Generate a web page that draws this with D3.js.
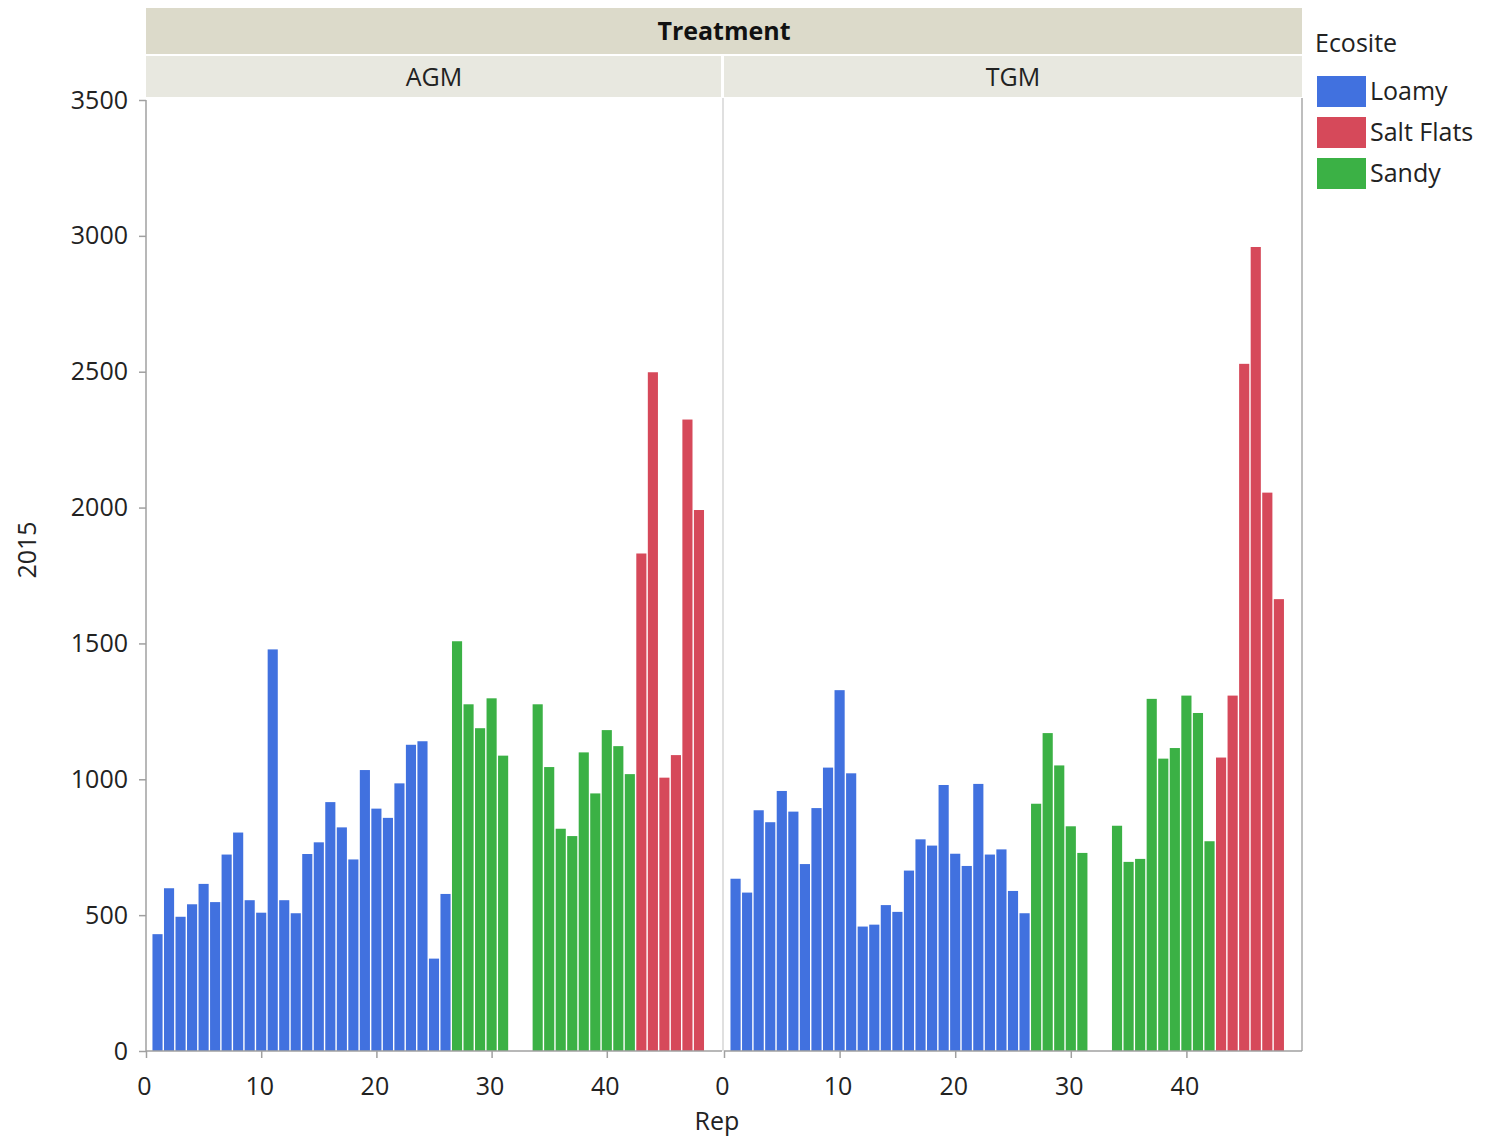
<!DOCTYPE html>
<html><head><meta charset="utf-8">
<script src="https://cdn.jsdelivr.net/npm/d3@7"></script>
<style>
body{margin:0;background:#fff;}
text{font-family:"Open Sans","Noto Sans",sans-serif;}
</style></head>
<body><svg id="c" width="1497" height="1143"></svg>
<script>
// ---- data ----
const panels = ["AGM", "TGM"];
const ecosites = ["Loamy", "Salt Flats", "Sandy"];
const colors = ["#4171DF", "#D6495A", "#3BB145"];
const loamyReps = [1,2,3,4,5,6,7,8,9,10,11,12,13,14,15,16,17,18,19,20,21,22,23,24,25,26];
const sandyReps = [27,28,29,30,31,34,35,36,37,38,39,40,41,42];
const saltReps  = [43,44,45,46,47,48];
const agmLoamy = [430,599,494,540,615,548,723,804,555,509,1478,555,507,725,768,916,823,705,1034,892,858,985,1127,1140,340,578];
const agmSandy = [1508,1276,1188,1298,1087,1276,1045,818,791,1099,948,1181,1122,1019];
const agmSalt  = [1831,2498,1006,1089,2324,1991];
const tgmLoamy = [634,583,886,842,957,881,688,894,1043,1328,1022,458,465,537,512,664,779,756,979,726,681,983,723,742,589,507];
const tgmSandy = [910,1170,1051,827,729,829,696,707,1296,1076,1115,1308,1244,772];
const tgmSalt  = [1080,1308,2529,2959,2055,1663];
const yTicks = [0,500,1000,1500,2000,2500,3000,3500];
const xTicks = [0,10,20,30,40];

function rows(reps, vals, eco){ return reps.map((r,i)=>({rep:r, v:vals[i], eco})); }
const data = {
  AGM: [...rows(loamyReps, agmLoamy, "Loamy"), ...rows(sandyReps, agmSandy, "Sandy"), ...rows(saltReps, agmSalt, "Salt Flats")],
  TGM: [...rows(loamyReps, tgmLoamy, "Loamy"), ...rows(sandyReps, tgmSandy, "Sandy"), ...rows(saltReps, tgmSalt, "Salt Flats")]
};

// ---- layout ----
const FS = 25;
const svg = d3.select("#c");
const pLeft = 146, pRight = 1302, pTop = 100, pBottom = 1051, pMid = 723;
const color = d3.scaleOrdinal(ecosites, colors);
const y = d3.scaleLinear([0, 3500], [pBottom, pTop]);
const panelX = {
  AGM: d3.scaleLinear([0, 50], [pLeft, pMid - 1]),
  TGM: d3.scaleLinear([0, 50], [pMid + 1, pRight])
};

// header strips
svg.append("rect").attr("x", pLeft).attr("y", 8).attr("width", pRight - pLeft).attr("height", 46).attr("fill", "#DCDACA");
svg.append("text").attr("x", (pLeft + pRight) / 2).attr("y", 40).attr("text-anchor", "middle")
  .attr("font-size", FS).attr("font-weight", "bold").attr("fill", "#111").text("Treatment");
panels.forEach(p => {
  const [a, b] = panelX[p].range();
  svg.append("rect").attr("x", a).attr("y", 56).attr("width", b - a - (p === "AGM" ? 1 : 0)).attr("height", 41).attr("fill", "#E8E8E0");
  svg.append("text").attr("x", (a + b) / 2).attr("y", 86).attr("text-anchor", "middle")
    .attr("font-size", FS).attr("fill", "#222").text(p);
});

// panel separators / borders
svg.append("line").attr("x1", pMid).attr("x2", pMid).attr("y1", pTop - 2).attr("y2", pBottom).attr("stroke", "#d6d6d6").attr("stroke-width", 1.5);
svg.append("line").attr("x1", pRight).attr("x2", pRight).attr("y1", pTop - 2).attr("y2", pBottom).attr("stroke", "#a8a8a8").attr("stroke-width", 1.5);

// bars
panels.forEach(p => {
  const x = panelX[p];
  const bw = (x(1) - x(0)) - 1.4;
  svg.append("g").selectAll("rect").data(data[p]).join("rect")
    .attr("x", d => x(d.rep) - bw / 2)
    .attr("width", bw)
    .attr("y", d => y(d.v))
    .attr("height", d => y(0) - y(d.v))
    .attr("fill", d => color(d.eco));
});

// y axis
const yAxis = svg.append("g").attr("transform", `translate(${pLeft},0)`)
  .call(d3.axisLeft(y).tickValues(yTicks).tickFormat(d3.format("d")).tickSize(7).tickPadding(11));
yAxis.selectAll("text").attr("font-size", FS).attr("fill", "#222");
yAxis.selectAll("line,path").attr("stroke", "#a0a0a0").attr("stroke-width", 1.5);
yAxis.select("path").attr("d", `M0,${pTop}V${pBottom}`);

// x axes
panels.forEach(p => {
  const g = svg.append("g").attr("transform", `translate(0,${pBottom})`)
    .call(d3.axisBottom(panelX[p]).tickValues(xTicks).tickSize(7).tickPadding(19));
  g.selectAll("text").attr("font-size", FS).attr("fill", "#222").attr("dx", "-2");
  g.selectAll("line,path").attr("stroke", "#a0a0a0").attr("stroke-width", 1.5);
  const [a, b] = panelX[p].range();
  g.select("path").attr("d", `M${a},0H${b}`);
});

// axis titles
svg.append("text").attr("x", 717).attr("y", 1130).attr("text-anchor", "middle").attr("font-size", FS).attr("fill", "#222").text("Rep");
svg.append("text").attr("transform", "translate(36,550) rotate(-90)").attr("text-anchor", "middle").attr("font-size", FS).attr("fill", "#222").text("2015");

// legend
svg.append("text").attr("x", 1315).attr("y", 52).attr("font-size", FS).attr("fill", "#222").text("Ecosite");
ecosites.forEach((e, i) => {
  const yy = 76 + i * 41;
  svg.append("rect").attr("x", 1317).attr("y", yy).attr("width", 49).attr("height", 31).attr("fill", colors[i]);
  svg.append("text").attr("x", 1370).attr("y", yy + 24).attr("font-size", FS).attr("fill", "#222").text(e);
});
</script></body></html>
